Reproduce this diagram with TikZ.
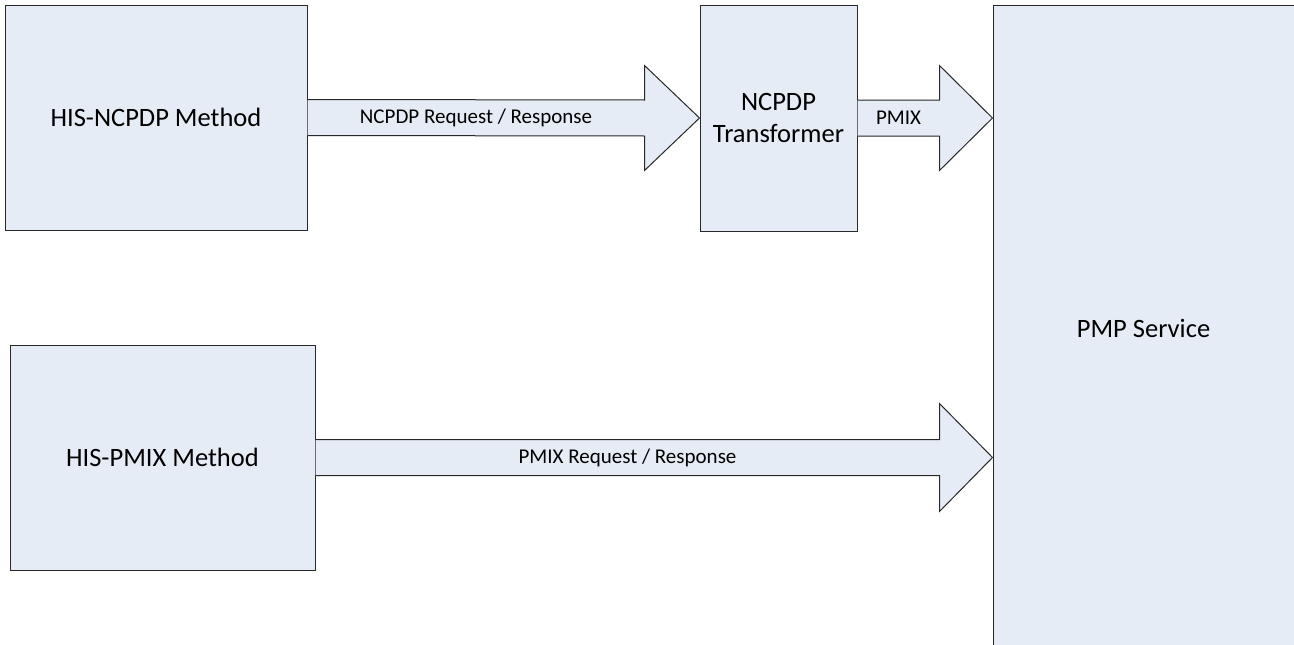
\documentclass[tikz,border=0pt]{standalone}
\usepackage{fontspec}
\setmainfont{Carlito}
\usetikzlibrary{calc}
\definecolor{boxfill}{RGB}{230,236,246}
\definecolor{edge}{RGB}{40,40,40}
\tikzset{
  block/.style={draw=edge, fill=boxfill, line width=1pt, inner sep=0pt, font=\fontsize{26.5}{32}\selectfont, align=center},
  barrow/.style={draw=edge, fill=boxfill, line width=1pt, line join=miter},
  alabel/.style={font=\fontsize{21}{25}\selectfont, inner sep=0pt}
}
\begin{document}
\begin{tikzpicture}[x=1pt,y=-1pt]
\useasboundingbox (0,0) rectangle (1294,645);
\clip (0,0) rectangle (1294,645);
\node[block, minimum width=302, minimum height=225] (ncpdp) at (156,117.5) {HIS-NCPDP Method};
\node[block, minimum width=305, minimum height=225] (pmix) at (162.5,457.5) {HIS-PMIX Method};
\node[block, minimum width=157, minimum height=226] (trans) at (778.5,118) {NCPDP\\Transformer};
\node[block, minimum width=340, minimum height=680] (pmp) at (1163,345) {};
\node[font=\fontsize{26.5}{32}\selectfont] (pmplabel) at (1143.5,328) {PMP Service};
% arrow 1
\draw[barrow] ($(ncpdp.east)+(0,-18)$) -- ($(trans.west)+(-55,-18)$) -- ($(trans.west)+(-55,-52.5)$) -- (trans.west)
  -- ($(trans.west)+(-55,52.5)$) -- ($(trans.west)+(-55,18)$) -- ($(ncpdp.east)+(0,18)$);
\node[alabel] (l1) at ($(ncpdp.east)!0.5!($(trans.west)+(-55,0)$)$) {NCPDP Request / Response};
% arrow 2
\coordinate (t2) at (pmp.west |- trans.east);
\draw[barrow] ($(trans.east)+(0,-18)$) -- ($(t2)+(-53,-18)$) -- ($(t2)+(-53,-52.5)$) -- (t2)
  -- ($(t2)+(-53,52.5)$) -- ($(t2)+(-53,18)$) -- ($(trans.east)+(0,18)$);
\node[alabel] (l2) at ($(trans.east)!0.5!($(t2)+(-53,0)$)$) {PMIX};
% arrow 3
\coordinate (t3) at (pmp.west |- pmix.east);
\draw[barrow] ($(pmix.east)+(0,-18)$) -- ($(t3)+(-53,-18)$) -- ($(t3)+(-53,-54)$) -- (t3)
  -- ($(t3)+(-53,54)$) -- ($(t3)+(-53,18)$) -- ($(pmix.east)+(0,18)$);
\node[alabel] (l3) at ($(pmix.east)!0.5!($(t3)+(-53,0)$)$) {PMIX Request / Response};
\end{tikzpicture}
\end{document}
